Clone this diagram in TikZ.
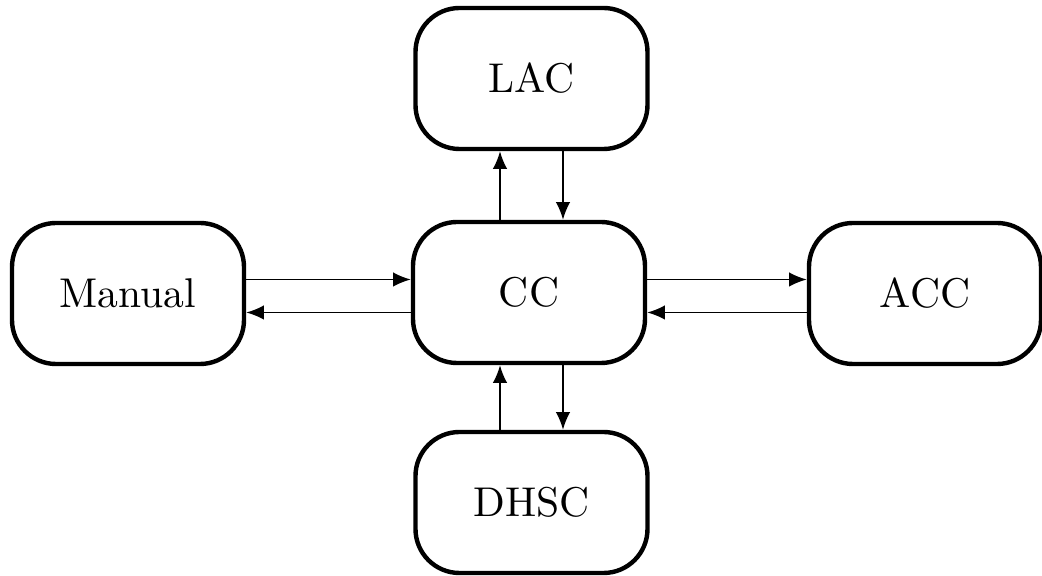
\documentclass[tikz,border=0pt]{standalone}
\usetikzlibrary{arrows.meta}
\begin{document}
\begin{tikzpicture}[x=0.25pt,y=-0.25pt,
  box/.style={draw, line width=1.1pt, rounded corners=11pt, minimum width=58pt, minimum height=35.25pt, inner sep=0pt, font=\fontsize{10.4pt}{12pt}\selectfont},
  arr/.style={line width=0.45pt, -{Latex[length=4.4pt,width=3.6pt]}}]
\useasboundingbox (0,0) rectangle (1042,576);
\node[box] (Manual) at (128,293.5) {Manual};
\node[box] (CC) at (529,292.5) {CC};
\node[box] (ACC) at (925,293.5) {ACC};
\node[box] (LAC) at (531.5,78.5) {LAC};
\node[box] (DHSC) at (531.5,502.5) {DHSC};
\coordinate (h1) at (0,279.5);
\coordinate (h2) at (0,312.5);
\coordinate (v1) at (500,0);
\coordinate (v2) at (563,0);
\draw[arr] (Manual.east |- h1) -- (CC.west |- h1);
\draw[arr] (CC.west |- h2) -- (Manual.east |- h2);
\draw[arr] (CC.east |- h1) -- (ACC.west |- h1);
\draw[arr] (ACC.west |- h2) -- (CC.east |- h2);
\draw[arr] (CC.north -| v1) -- (LAC.south -| v1);
\draw[arr] (LAC.south -| v2) -- (CC.north -| v2);
\draw[arr] (DHSC.north -| v1) -- (CC.south -| v1);
\draw[arr] (CC.south -| v2) -- (DHSC.north -| v2);
\end{tikzpicture}
\end{document}
